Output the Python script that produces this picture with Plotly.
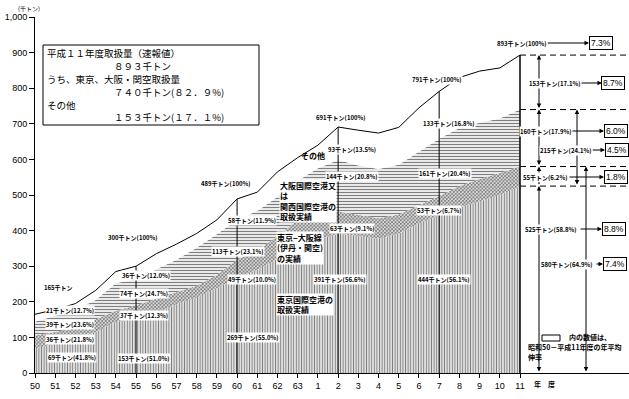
import plotly.graph_objects as go

# ---------------- data (千トン) ----------------
years = ["50", "51", "52", "53", "54", "55", "56", "57", "58", "59", "60", "61", "62", "63",
         "1", "2", "3", "4", "5", "6", "7", "8", "9", "10", "11"]
tokyo = [69, 82, 100, 115, 143, 153, 168, 193, 212, 238, 269, 290, 320, 350,
         375, 391, 385, 377, 392, 420, 444, 465, 482, 500, 525]
tokyo_osaka = [36, 33, 26, 35, 32, 37, 40, 32, 33, 37, 49, 55, 65, 80,
               73, 63, 60, 58, 53, 50, 53, 60, 63, 62, 55]
osaka = [39, 45, 52, 55, 77, 74, 82, 93, 107, 115, 113, 110, 110, 110,
         127, 144, 138, 138, 140, 152, 161, 163, 158, 153, 160]
other = [21, 18, 17, 27, 33, 36, 45, 44, 40, 40, 58, 53, 70, 65,
         65, 93, 99, 101, 105, 123, 133, 142, 145, 142, 153]
total = [a + b + c + d for a, b, c, d in zip(tokyo, tokyo_osaka, osaka, other)]

growth = {"total": "7.3%", "other": "8.7%", "osaka": "6.0%", "osaka_to": "4.5%",
          "to": "1.8%", "tokyo": "8.8%", "tokyo_to": "7.4%"}

idx = list(range(len(years)))
N = len(years) - 1

# pixel helpers (layout only)
X0, PXX = 35, (520 - 35) / 24
Y0, PXY = 373, 356 / 1000
def dx(px): return (px - X0) / PXX
def dy(py): return (Y0 - py) / PXY
XMAX = dx(629)

FONT = "Noto Sans CJK JP"
FW = str.maketrans("0123456789.", "０１２３４５６７８９．")
def fw(s): return s.translate(FW)

fig = go.Figure()
fig.add_trace(go.Scatter(x=idx, y=tokyo, stackgroup="s", mode="lines", line=dict(width=0, color="black"),
                         fillcolor="white",
                         fillpattern=dict(shape="|", size=2.6, solidity=0.5, fgcolor="black", bgcolor="white"),
                         hoverinfo="skip", showlegend=False))
fig.add_trace(go.Scatter(x=idx, y=tokyo_osaka, stackgroup="s", mode="lines", line=dict(width=0, color="black"),
                         fillcolor="white",
                         fillpattern=dict(shape="x", size=2.5, solidity=0.65, fgcolor="black", bgcolor="white"),
                         hoverinfo="skip", showlegend=False))
fig.add_trace(go.Scatter(x=idx, y=osaka, stackgroup="s", mode="lines", line=dict(width=0, color="black"),
                         fillcolor="white",
                         fillpattern=dict(shape="-", size=3, solidity=0.45, fgcolor="black", bgcolor="white"),
                         hoverinfo="skip", showlegend=False))
fig.add_trace(go.Scatter(x=idx, y=other, stackgroup="s", mode="lines", line=dict(width=1, color="black"),
                         fillcolor="white", hoverinfo="skip", showlegend=False))

shapes = []
# leader lines
for i in [5, 10, 15, 20]:
    shapes.append(dict(type="line", xref="x", yref="y", x0=i, x1=i, y0=0, y1=total[i],
                       line=dict(color="black", width=1)))
shapes.append(dict(type="line", xref="x", yref="y", x0=N, x1=N, y0=0, y1=total[N],
                   line=dict(color="black", width=1.5)))
# dashed reference lines at the right
lv_total = total[N]
lv_osaka = total[N] - other[N]
lv_to = tokyo[N] + tokyo_osaka[N]
lv_tokyo = tokyo[N]
for v in [lv_total, lv_osaka, lv_to, lv_tokyo]:
    shapes.append(dict(type="line", xref="x", yref="y", x0=N, x1=XMAX, y0=v, y1=v,
                       line=dict(color="black", width=1, dash="6px,4px")))
# legend box
shapes.append(dict(type="rect", xref="x", yref="y", x0=dx(542), x1=dx(560), y0=dy(341), y1=dy(335),
                   line=dict(color="black", width=1), fillcolor="white"))
# summary box frame
shapes.append(dict(type="rect", xref="x", yref="y", x0=dx(43), x1=dx(259), y0=dy(125), y1=dy(45),
                   line=dict(color="black", width=1), fillcolor="white", layer="above"))

ann = []
def lab(text, cx, cy, size=6, bg="white"):
    ann.append(dict(text=text, x=dx(cx), y=dy(cy), xref="x", yref="y", showarrow=False,
                    font=dict(family=FONT, size=size, color="black", weight="bold"),
                    bgcolor=bg, borderpad=0))

def pct(i, part):
    return f"{part[i]}千トン({part[i] / total[i] * 100:.1f}%)"

# S50
lab(f"{total[0]}千トン", 58, 287)
lab(pct(0, other), 70, 310)
lab(pct(0, osaka), 70, 324)
lab(pct(0, tokyo_osaka), 70, 339)
lab(pct(0, tokyo), 72, 357)
# S55, S60, H2, H7
for i, pos in [(5, [(133, 237), (146, 275), (144, 293), (144, 315), (144, 358)]),
               (10, [(226, 183), (252, 220), (238, 251), (252, 279), (253, 337)]),
               (15, [(341, 117), (352, 149), (352, 176), (352, 228), (340, 279)]),
               (20, [(437, 79), (449, 123), (445, 173), (439, 210), (444, 279)])]:
    lab(f"{total[i]}千トン(100%)", *pos[0])
    lab(pct(i, other), *pos[1])
    lab(pct(i, osaka), *pos[2])
    lab(pct(i, tokyo_osaka), *pos[3])
    lab(pct(i, tokyo), *pos[4])

# region names
def region(text, lx, ty, size=8):
    ann.append(dict(text=text, x=dx(lx), y=dy(ty), xref="x", yref="y", xanchor="left", yanchor="top",
                    showarrow=False, align="left",
                    font=dict(family=FONT, size=size, color="black", weight="bold"),
                    bgcolor="white", borderpad=0))
region("大阪国際空港又<br>は<br>関西国際空港の<br>取扱実績", 279, 179)
region("東京−大阪線<br>(伊丹・関空)<br>の実績", 276, 231)
region("東京国際空港の<br>取扱実績", 276, 293)
ann.append(dict(text="その他", x=dx(313), y=dy(155), xref="x", yref="y", showarrow=False,
                font=dict(family=FONT, size=8, color="black", weight="bold")))

# summary box lines
main = total[N] - other[N]
summary = [
    ("平成１１年度取扱量（速報値）", 46, 53),
    (f"{fw(str(total[N]))}千トン", 113, 66),
    ("うち、東京、大阪・関空取扱量", 46, 79),
    (f"{fw(str(main))}千トン({fw(f'{main / total[N] * 100:.1f}')}%)", 113, 92),
    ("その他", 46, 105),
    (f"{fw(str(other[N]))}千トン({fw(f'{other[N] / total[N] * 100:.1f}')}%)", 113, 117),
]
for t, lx, cy in summary:
    ann.append(dict(text=t, x=dx(lx), y=dy(cy), xref="x", yref="y", xanchor="left", showarrow=False,
                    font=dict(family=FONT, size=9.5, color="black"), borderpad=0))

# right side vertical double arrows
def varrow(px, v0, v1):
    ann.append(dict(text="", x=dx(px), y=v1, ax=dx(px), ay=v0, xref="x", yref="y", axref="x", ayref="y",
                    showarrow=True, arrowhead=2, arrowsize=0.9, arrowwidth=1, arrowside="end+start",
                    arrowcolor="black", standoff=0, startstandoff=0))
varrow(539, lv_osaka, lv_total)
varrow(539, lv_to, lv_osaka)
varrow(539, lv_tokyo, lv_to)
varrow(539, 0, lv_tokyo)
varrow(577, lv_tokyo, lv_osaka)
varrow(586, 0, lv_to)

# right side labels, arrows to growth boxes
def side(text, cx, cy, a0, a1, box, bx):
    ann.append(dict(text="", x=dx(a1), y=dy(cy), ax=dx(a0), ay=dy(cy), xref="x", yref="y",
                    axref="x", ayref="y", showarrow=True, arrowhead=2, arrowsize=0.9, arrowwidth=1,
                    arrowcolor="black", standoff=0))
    lab(text, cx, cy)
    ann.append(dict(text=box, x=dx(bx), y=dy(cy), xref="x", yref="y", showarrow=False,
                    font=dict(family="Liberation Sans", size=8.5, color="black"),
                    bgcolor="white", bordercolor="black", borderwidth=1, borderpad=1))

side(f"{total[N]}千トン(100%)", 522, 43, 546, 589, growth["total"], 601)
side(pct(N, other), 555, 83, 578, 602, growth["other"], 613)
side(pct(N, osaka), 546, 131, 570, 604, growth["osaka"], 616)
side(f"{osaka[N] + tokyo_osaka[N]}千トン({(osaka[N] + tokyo_osaka[N]) / total[N] * 100:.1f}%)",
     566, 150, 591, 605, growth["osaka_to"], 617)
side(pct(N, tokyo_osaka), 545, 177, 568, 604, growth["to"], 616)
side(pct(N, tokyo), 551, 229, 579, 602, growth["tokyo"], 614)
side(f"{tokyo[N] + tokyo_osaka[N]}千トン({(tokyo[N] + tokyo_osaka[N]) / total[N] * 100:.1f}%)",
     567, 264, 595, 603, growth["tokyo_to"], 615)

# legend text
for t, lx, cy in [("内の数値は、", 568, 337), ("昭和50－平成11年度の年平均", 527, 347), ("伸率", 527, 357)]:
    ann.append(dict(text=t, x=dx(lx), y=dy(cy), xref="x", yref="y", xanchor="left", showarrow=False,
                    font=dict(family=FONT, size=7, color="black", weight="bold"), borderpad=0))

# axis captions
ann.append(dict(text="年　度", x=dx(544), y=(Y0 - 391) / 356, xref="x", yref="paper", showarrow=False,
                font=dict(family=FONT, size=7, color="black", weight="bold")))
ann.append(dict(text="(千トン)", x=(17 - 35) / 594, y=(Y0 - 3) / 356, xref="paper", yref="paper",
                showarrow=False, borderpad=0, font=dict(family=FONT, size=6, color="black")))

fig.update_layout(
    width=629, height=399, margin=dict(l=35, r=0, t=17, b=26),
    paper_bgcolor="white", plot_bgcolor="white",
    shapes=shapes, annotations=ann,
    xaxis=dict(range=[0, XMAX], tickvals=idx, ticktext=years, showgrid=False, zeroline=False,
               showline=True, linecolor="black", linewidth=1, ticks="outside", ticklen=4,
               tickcolor="black", tickfont=dict(family="Liberation Sans", size=9, color="black")),
    yaxis=dict(range=[0, 1000], tickvals=list(range(0, 1001, 100)),
               ticktext=["0", "100", "200", "300", "400", "500", "600", "700", "800", "900", "1,000"],
               showgrid=False, zeroline=False, showline=True, linecolor="black", linewidth=1,
               ticks="outside", ticklen=5, tickcolor="black",
               tickfont=dict(family="Liberation Sans", size=9, color="black")),
)

fig.write_html("out.html", config={"displayModeBar": False},
               post_script="document.body.style.margin='0';")
